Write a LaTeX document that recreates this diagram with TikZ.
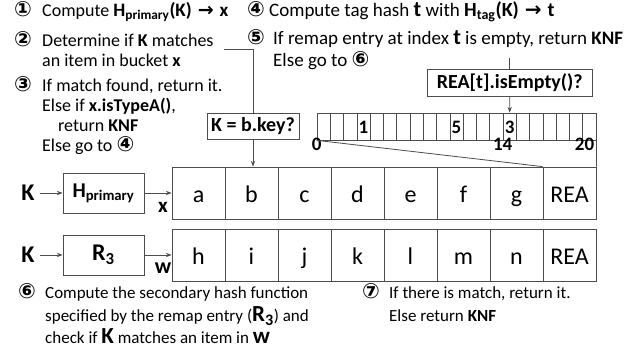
\documentclass[tikz,border=0pt]{standalone}
\usepackage{fontspec}
\setmainfont{Carlito}
\newfontfamily\dejavu{DejaVu Sans}
\usepackage{tikz}
\usetikzlibrary{arrows.meta}
\tikzset{>={Stealth[length=2mm]}}
\newcommand{\cnum}[1]{{\dejavu\bfseries\fontsize{21}{20}\selectfont #1}}
\newcommand{\harr}{\hspace{6pt}{\dejavu\bfseries →}\hspace{6pt}}
\newcommand{\bigb}[1]{{\fontsize{22}{20}\selectfont\bfseries #1}}

\begin{document}
\begin{tikzpicture}[x=1pt,y=-1pt,
		note/.style={anchor=north west,inner sep=0pt,align=left,font=\fontsize{18}{20}\selectfont},
		box/.style={draw=black!70,line width=0.8pt,inner sep=0pt,font=\fontsize{21}{24}\selectfont\bfseries},
		cell/.style={draw=black!70,line width=0.8pt,minimum width=53pt,minimum height=52pt,inner sep=0pt,text height=20pt,text depth=2pt,font=\fontsize{24}{28}\selectfont},
		slot/.style={draw=black!70,line width=0.7pt,minimum width=13.29pt,minimum height=27pt,inner sep=0pt},
		digit/.style={inner sep=0pt,text height=13pt,text depth=0pt,font=\fontsize{19}{20}\selectfont\bfseries},
		lbl/.style={inner sep=0pt,font=\fontsize{24}{28}\selectfont\bfseries},
		link/.style={draw=black!70,line width=0.8pt}]
	\useasboundingbox (0,0) rectangle (625,351);

	% steps
	\node (s1) at (14,1) [note] {\strut\makebox[28pt][l]{\cnum{①}}Compute \textbf{\fontsize{19}{20}\selectfont H\textsubscript{primary}(K)\harr x}};
	\node (s2) at (14,31) [note] {\strut\makebox[28pt][l]{\cnum{②}}Determine if \textbf{K} matches\\\hspace*{28pt}an item in bucket \textbf{x}};
	\node (s3) at (14,76) [note] {\strut\makebox[28pt][l]{\cnum{③}}If match found, return it.\\\hspace*{28pt}Else if \textbf{x.isTypeA()},\\\hspace*{44pt}return \textbf{KNF}\\\hspace*{28pt}Else go to \cnum{④}};
	\node (s4) at (247,1) [note,font=\fontsize{19}{20}\selectfont] {\strut\makebox[22pt][l]{\cnum{④}}Compute tag hash \bigb{t} with \textbf{\fontsize{20}{20}\selectfont H\textsubscript{tag}(K)\harr t}};
	\node (s5) at (247,29) [note,font=\fontsize{19}{20}\selectfont] {\strut\makebox[26pt][l]{\cnum{⑤}}If remap entry at index \bigb{t} is empty, return \textbf{KNF}\\\hspace*{26pt}Else go to \cnum{⑥}};
	\node (s6) at (18,283) [note,font=\fontsize{17}{22.5}\selectfont] {\strut\makebox[27pt][l]{\cnum{⑥}}Compute the secondary hash function\\\hspace*{27pt}specified by the remap entry ({\fontsize{23}{22}\selectfont\bfseries R\textsubscript{3}}) and\\\hspace*{27pt}check if {\fontsize{23}{22}\selectfont\bfseries K} matches an item in {\fontsize{23}{22}\selectfont\bfseries w}};
	\node (s7) at (362,283) [note,font=\fontsize{17}{22.5}\selectfont] {\strut\makebox[27pt][l]{\cnum{⑦}}If there is match, return it.\\\hspace*{27pt}Else return \textbf{KNF}};

	% buckets
	\foreach \lab [count=\i] in {a,b,c,d,e,f,g,REA}
		\node (p\i) at ({145.5+53*\i},193) [cell] {\lab};
	\foreach \lab [count=\i] in {h,i,j,k,l,m,n,REA}
		\node (q\i) at ({145.5+53*\i},255) [cell] {\lab};

	% hash functions
	\node (k1) at (28,193) [lbl] {K};
	\node (hp) at (103.5,193) [box,minimum width=81pt,minimum height=40pt] {H\textsubscript{primary}};
	\node (lx) at (163,207) [lbl,font=\fontsize{21}{24}\selectfont\bfseries] {x};
	\node (k2) at (28,255) [lbl] {K};
	\node (r3) at (103.5,255) [box,minimum width=81pt,minimum height=40pt,font=\fontsize{24}{24}\selectfont\bfseries] {R\textsubscript{3}};
	\node (lw) at (163,268) [lbl,font=\fontsize{22}{24}\selectfont\bfseries] {w};
	\draw[link,->,shorten <=5pt] (k1) -- (hp);
	\draw[link,->] (hp) -- (p1);
	\draw[link,->,shorten <=5pt] (k2) -- (r3);
	\draw[link,->] (r3) -- (q1);

	% remap entry array
	\foreach \i in {0,...,20}
		\node (r\i) at ({323.64+13.29*\i},126.5) [slot] {};
	\node (v1) at (r3) [digit] {1};
	\node (v5) at (r10) [digit] {5};
	\node (v3) at (r14) [digit] {3};
	\node (i0) at ([yshift=3pt]r0.south west) [digit,anchor=north] {0};
	\node (i14) at ([yshift=3pt]r14.south west) [digit,anchor=north] {14};
	\node (i20) at ([yshift=3pt,xshift=-2pt]r20.south east) [digit,anchor=north east] {20};
	\draw[link] (r0.south west) -- (p8.north west);
	\draw[link] (r20.south east) -- (p8.north east);

	% checks
	\node (bkey) at (253,126) [box,minimum width=92pt,minimum height=26pt,font=\fontsize{20}{24}\selectfont\bfseries] {K = b.key?};
	\coordinate (c2) at (224,49);
	\draw[link] (c2) -| (bkey.north);
	\draw[link,->] (bkey.south) -- (bkey.south |- p2.north);
	\node (isempty) at (509.7,82.5) [box,minimum width=165pt,minimum height=27pt,font=\fontsize{20}{24}\selectfont\bfseries] {REA[t].isEmpty()?};
	\coordinate (c5) at (509.7,58);
	\draw[link] (c5) -- (isempty.north);
	\draw[link,->] (isempty.south) -- (r14.north);
\end{tikzpicture}
\end{document}
